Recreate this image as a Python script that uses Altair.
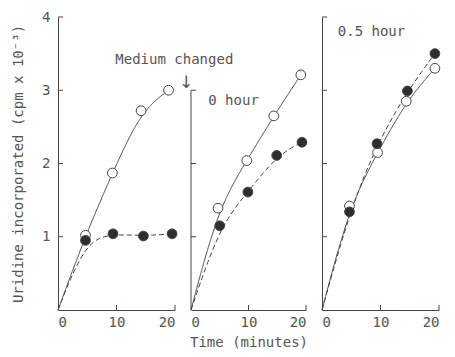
import altair as alt
import pandas as pd

# ---- data ----
p1_open_t = [4.7, 9.3, 14.2, 18.9]
p1_open_v = [1.02, 1.87, 2.72, 3.00]
p1_fill_t = [4.7, 9.4, 14.6, 19.5]
p1_fill_v = [0.95, 1.04, 1.01, 1.04]

p2_open_t = [4.7, 9.7, 14.4, 19.1]
p2_open_v = [1.39, 2.04, 2.65, 3.21]
p2_fill_t = [5.0, 9.9, 14.9, 19.3]
p2_fill_v = [1.15, 1.61, 2.11, 2.29]

p3_open_t = [4.7, 9.5, 14.4, 19.3]
p3_open_v = [1.42, 2.15, 2.85, 3.30]
p3_fill_t = [4.7, 9.4, 14.6, 19.3]
p3_fill_v = [1.34, 2.27, 2.99, 3.50]

x_ticks = [0, 10, 20]
x_inner_ticks = [10, 20]
y_ticks = [1, 2, 3, 4]
y_ticks_p2 = [1, 2, 3]

series_data = {
    "p1": [("open", p1_open_t, p1_open_v), ("filled", p1_fill_t, p1_fill_v)],
    "p2": [("open", p2_open_t, p2_open_v), ("filled", p2_fill_t, p2_fill_v)],
    "p3": [("open", p3_open_t, p3_open_v), ("filled", p3_fill_t, p3_fill_v)],
}
rows = []
line_rows = []
for p, lst in series_data.items():
    for s, ts, vs in lst:
        line_rows.append({"panel": p, "series": s, "t": 0, "v": 0})
        for t, v in zip(ts, vs):
            rows.append({"panel": p, "series": s, "t": t, "v": v})
            line_rows.append({"panel": p, "series": s, "t": t, "v": v})
pts = pd.DataFrame(rows)
lines_df = pd.DataFrame(line_rows)

FONT = "DejaVu Sans Mono"
INK = "#555555"
LINE = "#444444"
H = 293
TICK = 5


def xs():
    return alt.Scale(domain=[0, 20], nice=False, zero=True, padding=0)


def ys():
    return alt.Scale(domain=[0, 4], nice=False, zero=True, padding=0)


def make_panel(p, width, y_axis_kind, x_title):
    x_axis = alt.Axis(values=x_ticks, title=x_title, grid=False, ticks=False, format="d",
                      labelPadding=5, titlePadding=6)
    if y_axis_kind == "labels":
        y_axis = alt.Axis(values=y_ticks, title="Uridine incorporated (cpm x 10⁻³)", format="d",
                          grid=False, ticks=False, labelPadding=8, titlePadding=16)
        yt = y_ticks
    elif y_axis_kind == "short":
        y_axis = alt.Axis(values=y_ticks_p2, title=None, labels=False, domain=False,
                          grid=False, ticks=False)
        yt = y_ticks_p2
    else:
        y_axis = alt.Axis(values=y_ticks, title=None, labels=False, grid=False, ticks=False)
        yt = y_ticks

    lines = alt.Chart(lines_df).transform_filter(alt.datum.panel == p).mark_line(
        interpolate="basis", strokeWidth=1, color=LINE
    ).encode(
        x=alt.X("t:Q", scale=xs(), axis=x_axis),
        y=alt.Y("v:Q", scale=ys(), axis=y_axis),
        detail="series:N",
        strokeDash=alt.StrokeDash("series:N", scale=alt.Scale(domain=["open", "filled"],
                                  range=[[1, 0], [5, 3]]), legend=None),
    )
    points = alt.Chart(pts).transform_filter(alt.datum.panel == p).mark_point(
        filled=True, size=95, strokeWidth=1, stroke=LINE, opacity=1
    ).encode(
        x=alt.X("t:Q", scale=xs(), axis=x_axis),
        y=alt.Y("v:Q", scale=ys(), axis=y_axis),
        fill=alt.Fill("series:N", scale=alt.Scale(domain=["open", "filled"],
                      range=["white", "#2e2e2e"]), legend=None),
    )
    # inward-pointing tick marks
    ytick_layer = alt.Chart(pd.DataFrame({"tv": yt})).mark_rule(
        color=LINE, strokeWidth=1, x2Offset=TICK
    ).encode(
        x=alt.X(datum=0, scale=xs(), axis=x_axis), x2=alt.datum(0),
        y=alt.Y("tv:Q", scale=ys(), axis=y_axis),
    )
    xtick_layer = alt.Chart(pd.DataFrame({"tt": x_inner_ticks})).mark_rule(
        color=LINE, strokeWidth=1, y2Offset=-TICK
    ).encode(
        x=alt.X("tt:Q", scale=xs(), axis=x_axis),
        y=alt.Y(datum=0, scale=ys(), axis=y_axis), y2=alt.datum(0),
    )
    layers = [lines, ytick_layer, xtick_layer, points]
    if y_axis_kind == "short":
        rule = alt.Chart(pd.DataFrame({"a": [0]})).mark_rule(color=LINE, strokeWidth=1).encode(
            x=alt.X(datum=0, scale=xs(), axis=x_axis), y=alt.Y(datum=0, scale=ys(), axis=y_axis),
            y2=alt.datum(3))
        layers.insert(0, rule)
    return alt.layer(*layers).properties(width=width, height=H)


def label(text, t, v, align="left", font=FONT, size=14):
    return alt.Chart(pd.DataFrame({"a": [0]})).mark_text(
        text=text, font=font, fontSize=size, color=INK, align=align, baseline="middle"
    ).encode(x=alt.X(datum=t, scale=xs()), y=alt.Y(datum=v, scale=ys()))


p1 = alt.layer(make_panel("p1", 117, "labels", None),
               label("Medium changed", 9.8, 3.41),
               label("↓", 21.9, 3.10, align="center", font="DejaVu Sans", size=17))
p2 = alt.layer(make_panel("p2", 115, "short", "Time (minutes)"), label("0 hour", 3.0, 2.86))
p3 = alt.layer(make_panel("p3", 117, "plain", None), label("0.5 hour", 2.7, 3.79))

chart = alt.hconcat(p1, p2, p3, spacing=16, bounds="flush").resolve_scale(
    x="independent", y="independent"
).properties(padding={"left": 3, "top": 2, "right": 0, "bottom": 0}).configure_view(
    stroke=None
).configure_axis(
    labelFont=FONT, titleFont=FONT, labelFontSize=14, titleFontSize=14,
    labelColor=INK, titleColor=INK, domainColor=LINE, tickColor=LINE,
    titleFontWeight="normal", domainWidth=1, tickWidth=1
)

chart.save("out.html", embed_options={"renderer": "svg", "actions": False})
